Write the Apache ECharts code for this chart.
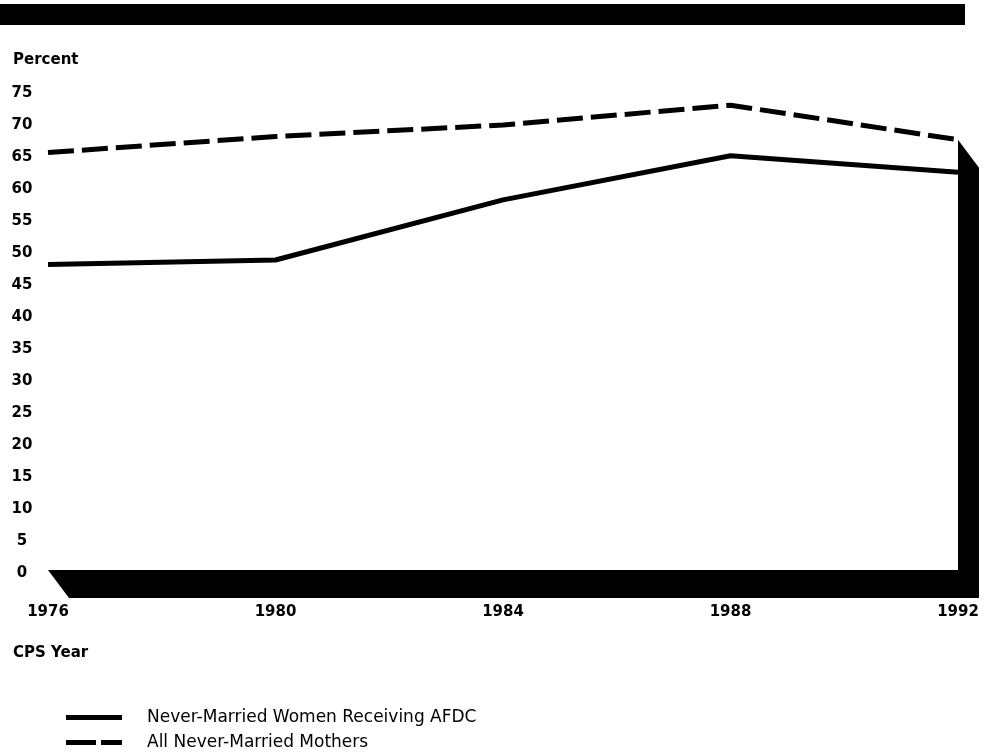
<!DOCTYPE html>
<html>
<head>
<meta charset="utf-8">
<script src="https://cdn.jsdelivr.net/npm/echarts@6/dist/echarts.min.js"></script>
<style>
html,body{margin:0;padding:0;background:#fff;}
#chart{width:995px;height:756px;}
</style>
</head>
<body>
<div id="chart"></div>
<script>
const years = ['1976', '1980', '1984', '1988', '1992'];
const afdcWomen = [48.2, 48.9, 58.3, 65.2, 62.6];
const allMothers = [65.7, 68.2, 70.0, 73.1, 67.7];
const yTicks = { min: 0, max: 75, interval: 5 };
const seriesNames = ['Never-Married Women Receiving AFDC', 'All Never-Married Mothers'];

const chart = echarts.init(document.getElementById('chart'));
const depth = [21, 28];
const lastIdx = years.length - 1;
const wallTop = Math.max(afdcWomen[lastIdx], allMothers[lastIdx]);

const boldFont = { fontFamily: 'DejaVu Sans', fontWeight: 'bold', fontSize: 15, color: '#000' };
const legendText = { fontFamily: 'DejaVu Sans', fontSize: 17, color: '#000', padding: [0, 0, 0, 20] };

chart.setOption({
  animation: false,
  backgroundColor: '#fff',
  title: [
    { text: 'Percent', left: 13, top: 53, padding: 0, textStyle: boldFont },
    { text: 'CPS Year', left: 13, top: 646, padding: 0, textStyle: boldFont }
  ],
  graphic: [
    { type: 'rect', shape: { x: 0, y: 4, width: 965, height: 21 }, style: { fill: '#000' } }
  ],
  grid: { left: 48, right: 37, top: 93, bottom: 183 },
  legend: [
    {
      left: 66, top: 709, padding: 0,
      itemWidth: 56, itemHeight: 5,
      icon: 'rect',
      data: [seriesNames[0]],
      textStyle: legendText
    },
    {
      left: 66, top: 734, padding: 0,
      itemWidth: 56, itemHeight: 5,
      icon: 'path://M0,0H30V5H0Z M35,0H56V5H35Z',
      data: [seriesNames[1]],
      textStyle: legendText
    }
  ],
  xAxis: {
    type: 'category',
    data: years,
    boundaryGap: false,
    axisLine: { show: false },
    axisTick: { show: false },
    axisLabel: Object.assign({ margin: 32 }, boldFont)
  },
  yAxis: {
    type: 'value',
    min: yTicks.min,
    max: yTicks.max,
    interval: yTicks.interval,
    axisLine: { show: false },
    axisTick: { show: false },
    splitLine: { show: false },
    axisLabel: Object.assign({ margin: 26, align: 'center' }, boldFont)
  },
  series: [
    {
      type: 'custom',
      name: 'frame',
      z: 1,
      silent: true,
      data: [[lastIdx, wallTop]],
      renderItem: function (params, api) {
        const p0 = api.coord([0, 0]);
        const p1 = api.coord([lastIdx, 0]);
        const pt = api.coord([lastIdx, api.value(1)]);
        p0[1] -= 3; p1[1] -= 3;
        const add = p => [p[0] + depth[0], p[1] + depth[1]];
        return {
          type: 'polygon',
          shape: { points: [p0, p1, pt, add(pt), add(p1), add(p0)] },
          style: { fill: '#000' }
        };
      }
    },
    {
      type: 'line',
      name: seriesNames[0],
      data: afdcWomen,
      symbol: 'none',
      z: 3,
      lineStyle: { color: '#000', width: 5, type: 'solid' },
      itemStyle: { color: '#000' }
    },
    {
      type: 'line',
      name: seriesNames[1],
      data: allMothers,
      symbol: 'none',
      z: 3,
      lineStyle: { color: '#000', width: 5, type: [26, 8] },
      itemStyle: { color: '#000' }
    }
  ]
});
</script>
</body>
</html>
